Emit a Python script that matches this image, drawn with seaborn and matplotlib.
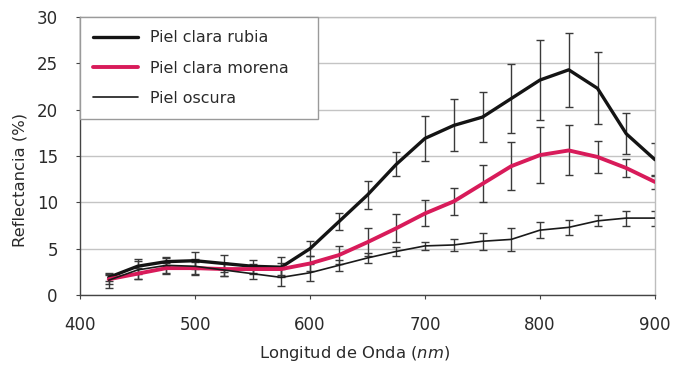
import numpy as np
import pandas as pd
import matplotlib
matplotlib.use("Agg")
import matplotlib.pyplot as plt
import seaborn as sns

wavelength = [425, 450, 475, 500, 525, 550, 575, 600, 625, 650, 675, 700,
              725, 750, 775, 800, 825, 850, 875, 900]

rubia = [1.9, 3.1, 3.6, 3.7, 3.4, 3.1, 3.0, 5.0, 7.9, 10.8, 14.1, 16.9,
         18.3, 19.2, 21.2, 23.2, 24.3, 22.3, 17.4, 14.6]
rubia_err = [0.4, 0.8, 0.5, 0.9, 0.9, 0.7, 1.1, 0.8, 0.9, 1.5, 1.3, 2.4,
             2.8, 2.7, 3.7, 4.3, 4.0, 3.9, 2.2, 1.8]

morena = [1.7, 2.3, 2.9, 2.9, 2.8, 2.8, 2.8, 3.4, 4.3, 5.7, 7.2, 8.8,
          10.1, 12.0, 13.9, 15.1, 15.6, 14.9, 13.7, 12.2]
morena_err = [0.5, 0.6, 0.6, 0.7, 0.7, 0.5, 0.6, 0.8, 1.0, 1.5, 1.5, 1.4,
              1.5, 2.0, 2.6, 3.0, 2.7, 1.7, 1.0, 0.8]

oscura = [1.6, 2.7, 3.2, 3.1, 2.7, 2.3, 1.9, 2.4, 3.2, 4.0, 4.7, 5.3,
          5.4, 5.8, 6.0, 7.0, 7.3, 8.0, 8.3, 8.3]
oscura_err = [0.8, 1.0, 0.8, 0.8, 0.7, 0.6, 0.9, 0.9, 0.6, 0.5, 0.5, 0.4,
              0.6, 0.9, 1.2, 0.9, 0.8, 0.6, 0.8, 0.8]

labels = ["Piel clara rubia", "Piel clara morena", "Piel oscura"]
y_ticks = [0, 5, 10, 15, 20, 25, 30]
x_ticks = [400, 500, 600, 700, 800, 900]

sns.set_theme(style="white")
plt.rcParams['font.family'] = ['DejaVu Sans']

fig = plt.figure(figsize=(6.75, 3.79), dpi=100)
ax = fig.add_axes([80/675, 1-295/379, 575/675, 278/379])

df = pd.DataFrame({"x": wavelength, "rubia": rubia, "morena": morena, "oscura": oscura})

series = [
    ("rubia", rubia_err, "#141414", 2.4, labels[0]),
    ("morena", morena_err, "#d81b5a", 2.8, labels[1]),
    ("oscura", oscura_err, "#1a1a1a", 1.2, labels[2]),
]

ecol = "#3a3a3a"
for col, err, color, lw, lab in series:
    ax.errorbar(df["x"], df[col], yerr=err, fmt="none", ecolor=ecol,
                elinewidth=1.0, capsize=3, capthick=1.0, zorder=2)

for col, err, color, lw, lab in series:
    sns.lineplot(data=df, x="x", y=col, ax=ax, color=color, linewidth=lw,
                 label=lab, zorder=3)

ax.set_xlim(400, 900)
ax.set_ylim(0, 30)
ax.set_xticks(x_ticks)
ax.set_yticks(y_ticks)
ax.yaxis.grid(True, color="#c4c4c4", linewidth=1.0)
ax.xaxis.grid(False)
ax.set_axisbelow(True)

for side in ["top", "right"]:
    ax.spines[side].set_color("#bdbdbd")
    ax.spines[side].set_linewidth(1.0)
for side in ["left", "bottom"]:
    ax.spines[side].set_color("#444444")
    ax.spines[side].set_linewidth(1.0)

ax.tick_params(axis="both", which="both", direction="out", length=3,
               width=0.8, color="#444444", labelsize=12, labelcolor="#2a2a2a",
               left=True, bottom=True)
ax.tick_params(axis="x", pad=12)
ax.tick_params(axis="y", pad=13)

ax.set_xlabel("Longitud de Onda ($\\it{nm}$)", fontsize=11.8, color="#2a2a2a")
ax.set_ylabel("Reflectancia (%)", fontsize=11.8, color="#2a2a2a")
ax.xaxis.set_label_coords(0.478, -0.176)
ax.yaxis.set_label_coords(-0.092, 0.414)

leg = ax.legend(loc="upper left", bbox_to_anchor=(0, 0.6, 0.414, 0.4), mode="expand",
                borderaxespad=0, fancybox=False, frameon=True, fontsize=11.4,
                handlelength=2.8, handletextpad=0.8, labelspacing=0.96,
                borderpad=0.85, framealpha=1.0)
leg.get_frame().set_edgecolor("#9a9a9a")
leg.get_frame().set_linewidth(1.0)
for t in leg.get_texts():
    t.set_color("#2a2a2a")

fig.savefig("out.png", dpi=100, facecolor="white")
